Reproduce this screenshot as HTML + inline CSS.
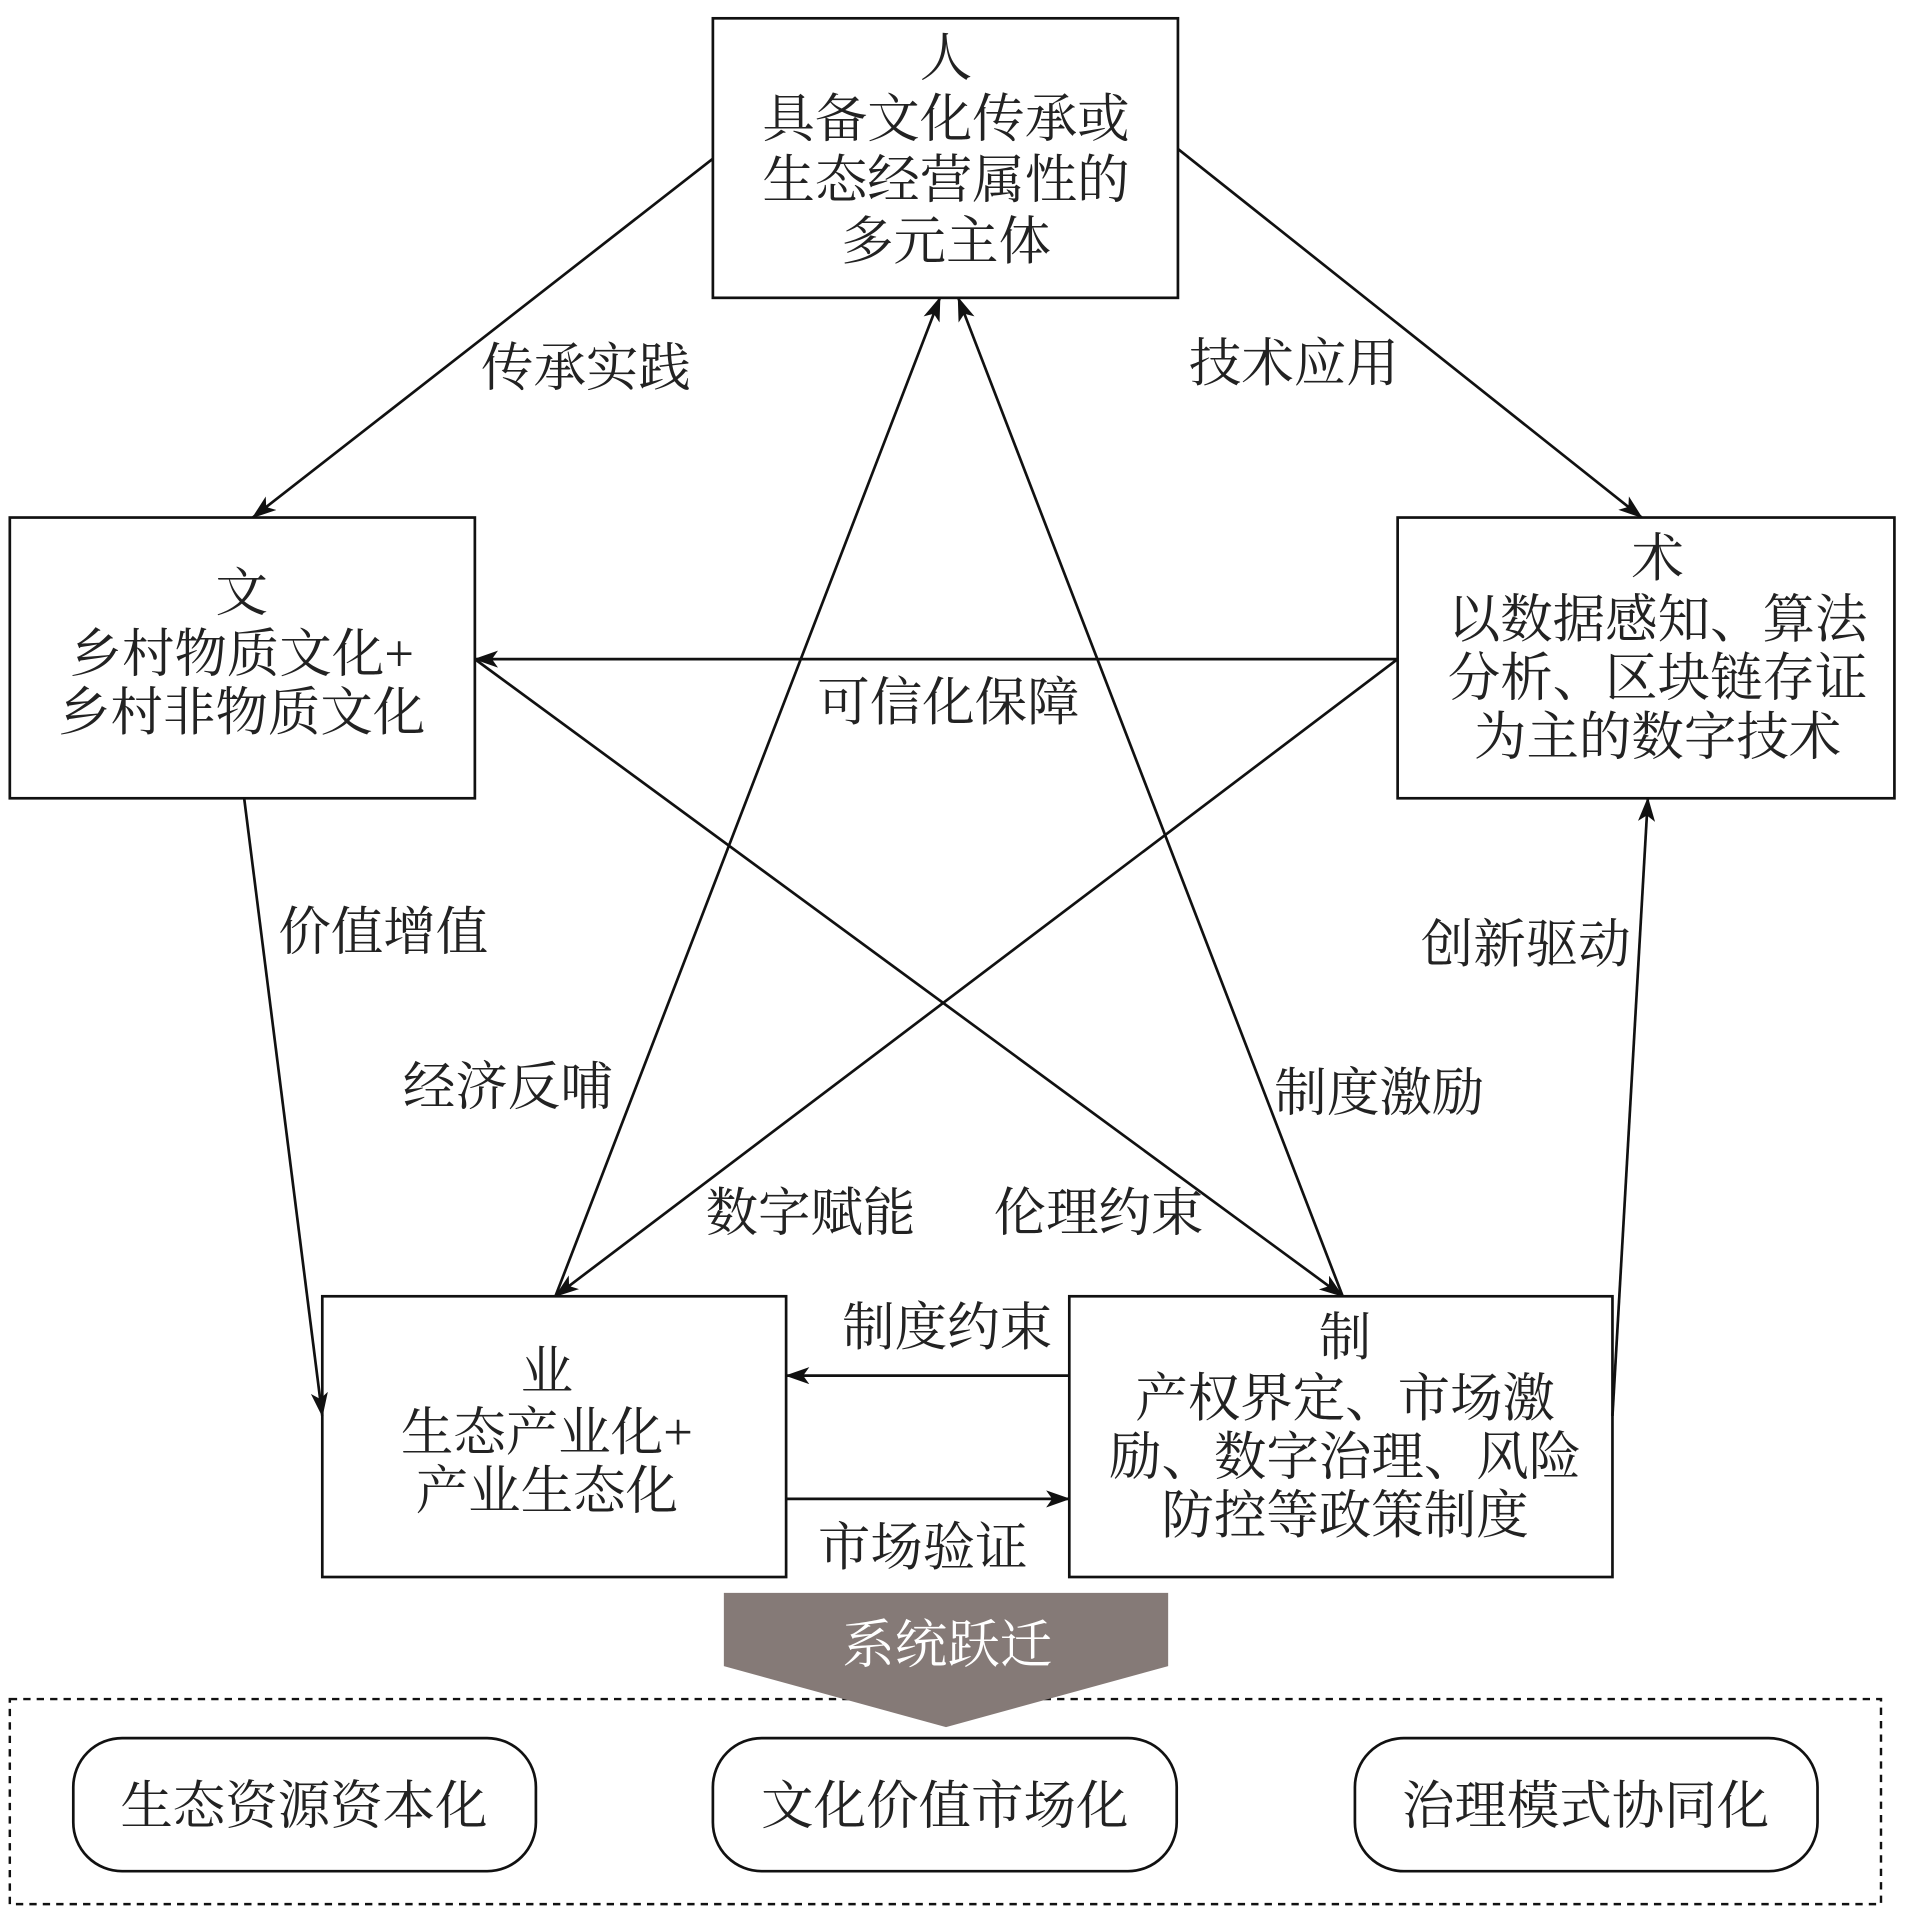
<!DOCTYPE html>
<html><head><meta charset="utf-8"><style>
html,body{margin:0;padding:0;background:#fff;}
svg{display:block;}
text{font-family:"Liberation Serif","Noto Serif CJK SC","Noto Sans CJK SC",serif;fill:#222;}
</style></head><body>
<svg width="1914" height="1920" viewBox="0 0 1568 1573" xmlns="http://www.w3.org/2000/svg">
<defs>
<marker id="a" viewBox="0 0 20 14" refX="19" refY="7" markerWidth="20" markerHeight="14" markerUnits="userSpaceOnUse" orient="auto">
<path d="M0,0 L20,7 L0,14 L5,7 Z" fill="#111"/>
</marker>
</defs>
<rect x="0" y="0" width="1568" height="1573" fill="#fff"/>
<g stroke="#111" stroke-width="2.2" fill="none">
<rect x="584" y="15" width="381" height="229"/>
<rect x="8" y="424" width="381" height="230"/>
<rect x="1145" y="424" width="407" height="230"/>
<rect x="264" y="1062" width="380" height="230"/>
<rect x="876" y="1062" width="445" height="230"/>
<rect x="8" y="1392" width="1533" height="168" stroke-dasharray="6,5" stroke-width="2"/>
<rect x="60" y="1424" width="379" height="109" rx="40"/>
<rect x="584" y="1424" width="380" height="109" rx="40"/>
<rect x="1110" y="1424" width="379" height="109" rx="40"/>
</g>
<g stroke="#111" stroke-width="2.2" fill="none" marker-end="url(#a)">
<line x1="584" y1="130" x2="207" y2="424"/>
<line x1="965" y1="122" x2="1345" y2="424"/>
<line x1="1145" y1="540" x2="389" y2="540"/>
<line x1="1145" y1="540" x2="455" y2="1062"/>
<line x1="389" y1="540" x2="1100" y2="1062"/>
<line x1="200" y1="654" x2="264" y2="1160"/>
<line x1="455" y1="1062" x2="770" y2="244"/>
<line x1="1100" y1="1062" x2="785" y2="244"/>
<line x1="1321" y1="1160" x2="1350" y2="654"/>
<line x1="876" y1="1127" x2="644" y2="1127"/>
<line x1="644" y1="1228" x2="876" y2="1228"/>
</g>
<path d="M593,1305 L957,1305 L957,1365 L775,1415 L593,1365 Z" fill="#857a77"/>
<g font-size="43" text-anchor="middle">
<text x="775" y="62">人</text>
<text x="775" y="112">具备文化传承或</text>
<text x="775" y="162">生态经营属性的</text>
<text x="775" y="212">多元主体</text>
<text x="198" y="500">文</text>
<text x="198" y="550">乡村物质文化+</text>
<text x="198" y="598">乡村非物质文化</text>
<text x="1358" y="472">术</text>
<text x="1358" y="522">以数据感知、算法</text>
<text x="1358" y="570">分析、区块链存证</text>
<text x="1358" y="618">为主的数字技术</text>
<text x="448" y="1138">业</text>
<text x="448" y="1188">生态产业化+</text>
<text x="448" y="1236">产业生态化</text>
<text x="1102" y="1110">制</text>
<text x="1102" y="1160">产权界定、市场激</text>
<text x="1102" y="1208">励、数字治理、风险</text>
<text x="1102" y="1256">防控等政策制度</text>
<text x="480" y="316">传承实践</text>
<text x="1060" y="312">技术应用</text>
<text x="777" y="590">可信化保障</text>
<text x="314" y="778">价值增值</text>
<text x="1250" y="788">创新驱动</text>
<text x="416" y="905">经济反哺</text>
<text x="1130" y="910">制度激励</text>
<text x="664" y="1008">数字赋能</text>
<text x="900" y="1008">伦理约束</text>
<text x="776" y="1102">制度约束</text>
<text x="756" y="1282">市场验证</text>
<text x="776" y="1362" style="fill:#fff">系统跃迁</text>
<text x="249" y="1494">生态资源资本化</text>
<text x="774" y="1494">文化价值市场化</text>
<text x="1299" y="1494">治理模式协同化</text>
</g>
</svg>
</body></html>
